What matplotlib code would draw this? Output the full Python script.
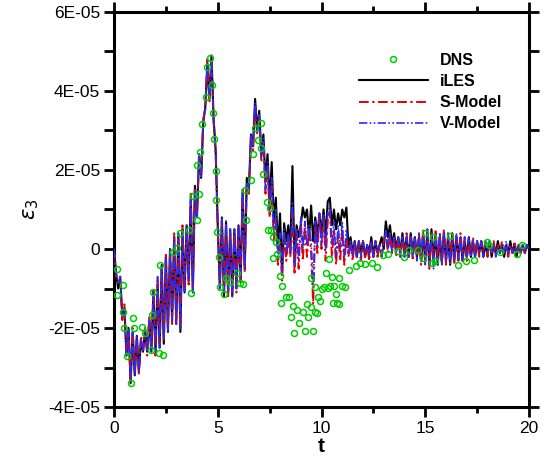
import numpy as np
import matplotlib
matplotlib.use("Agg")
import matplotlib.pyplot as plt
from matplotlib.ticker import MultipleLocator

plt.rcParams['font.family'] = ['Liberation Sans', 'DejaVu Sans']

# time grid of the LES series (step 0.1)
t_les = np.round(np.arange(0, 201) * 0.1, 2)

# values in units of 1E-05
iles = [
    0.0, -0.6, -1.0, -0.7, -1.7, -1.5, -2.7, -2.0, -3.4, -2.1,
    -3.2, -2.2, -3.1, -2.3, -2.6, -2.05, -2.6, -1.8, -2.6, -1.1,
    -2.6, -0.9, -2.5, -0.4, -2.4, -0.2, -2.1, 0.0, -1.8, 0.3,
    -1.9, 0.4, -2.1, 0.5, -1.1, 0.6, -0.8, 1.3, -1.1, 1.6,
    0.8, 2.4, 1.8, 3.2, 3.6, 4.7, 3.8, 4.9, 3.3, 2.5,
    0.6, -1.0, 0.8, -1.2, 0.7, -1.1, 0.5, -1.2, 0.5, -1.0,
    0.6, -0.8, 1.5, -0.5, 1.8, 1.5, 2.9, 2.6, 3.8, 3.0,
    3.5, 2.4, 2.9, 1.7, 2.4, 1.1, 2.2, 0.7, 1.3, 0.0,
    0.9, -0.6, 0.65, 0.2, 0.6, 0.0, 2.1, -0.4, 0.6, 0.3,
    0.6, 1.05, 0.8, 1.0, 0.3, 1.1, 0.2, 0.8, 0.3, 0.9,
    0.4, 1.0, 0.3, 1.2, 1.3, 0.6, 1.0, 0.5, 0.9, 0.6,
    1.0, 0.8, 1.05, 0.05, 0.3, -0.1, 0.2, -0.2, 0.2, -0.1,
    0.2, -0.2, 0.1, -0.1, 0.3, -0.2, 0.2, -0.1, 0.1, 0.3,
    0.0, 0.7, 0.3, 0.6, 0.1, 0.4, 0.0, 0.3, -0.1, 0.4,
    -0.1, 0.3, -0.2, 0.4, -0.1, 0.3, -0.2, 0.3, -0.3, 0.4,
    -0.3, 0.4, -0.4, 0.5, -0.3, 0.4, -0.4, 0.3, -0.3, 0.4,
    -0.3, 0.3, -0.4, 0.4, -0.3, 0.3, -0.2, 0.3, -0.3, 0.2,
    -0.2, 0.3, -0.2, 0.2, -0.2, 0.2, -0.1, 0.2, -0.2, 0.1,
    -0.1, 0.2, -0.2, 0.1, -0.1, 0.2, -0.1, 0.1, -0.2, 0.1,
    -0.1, 0.2, -0.1, 0.1, -0.2, 0.1, -0.1, 0.1, -0.1, 0.1,
    0.0,
]

s_model = [
    0.0, -0.7, -0.9, -0.8, -1.8, -1.4, -2.6, -2.1, -3.3, -2.0,
    -3.1, -2.3, -3.2, -2.2, -2.5, -2.0, -2.7, -1.7, -2.5, -1.0,
    -2.7, -0.8, -2.4, -0.5, -2.3, -0.1, -2.0, -0.1, -1.9, 0.4,
    -1.8, 0.3, -2.0, 0.6, -1.0, 0.5, -0.9, 1.4, -1.0, 1.5,
    0.9, 2.3, 1.9, 3.3, 3.5, 4.8, 3.7, 4.8, 3.2, 2.4,
    0.5, -0.9, 0.7, -1.1, 0.6, -1.2, 0.4, -1.1, 0.4, -1.1,
    0.5, -0.9, 1.4, -0.6, 1.7, 1.4, 2.8, 2.5, 3.6, 2.9,
    3.3, 2.2, 2.7, 1.4, 2.1, 0.8, 1.6, 0.2, 0.7, -0.4,
    0.2, -0.8, 0.4, -0.3, 0.3, -0.2, 0.9, -0.6, 0.4, -0.5,
    0.7, -0.3, 0.6, -0.2, 0.5, -0.1, -1.4, 0.6, -0.1, 0.9,
    0.0, 0.8, -0.3, 0.7, 1.0, -0.2, 0.5, -0.4, 0.4, -0.3,
    0.5, -0.4, 0.3, -0.2, 0.2, -0.3, 0.2, -0.2, 0.1, -0.3,
    0.2, -0.2, 0.1, -0.3, 0.2, -0.2, 0.2, -0.2, 0.1, -0.2,
    0.2, 0.4, -0.1, 0.4, -0.1, 0.3, -0.2, 0.3, -0.2, 0.3,
    -0.2, 0.4, -0.2, 0.3, -0.3, 0.3, -0.2, 0.4, -0.4, 0.5,
    -0.4, 0.5, -0.5, 0.4, -0.4, 0.5, -0.3, 0.4, -0.4, 0.5,
    -0.4, 0.4, -0.3, 0.4, -0.4, 0.3, -0.3, 0.4, -0.3, 0.3,
    -0.3, 0.2, -0.2, 0.3, -0.2, 0.2, -0.2, 0.2, -0.1, 0.2,
    -0.2, 0.1, -0.1, 0.2, -0.2, 0.1, -0.1, 0.2, -0.1, 0.1,
    -0.2, 0.1, -0.1, 0.2, -0.1, 0.1, -0.1, 0.1, -0.1, 0.1,
    0.0,
]

v_model = [
    0.0, -0.6, -0.9, -0.7, -1.7, -1.5, -2.7, -2.0, -3.3, -2.1,
    -3.2, -2.2, -3.1, -2.3, -2.6, -2.0, -2.6, -1.8, -2.6, -1.1,
    -2.6, -0.7, -2.5, -0.4, -2.3, -0.2, -2.1, 0.0, -1.8, 0.3,
    -1.9, 0.4, -2.0, 0.5, -1.1, 0.6, -0.8, 1.3, -1.1, 1.5,
    0.8, 2.4, 1.8, 3.2, 3.6, 4.7, 3.8, 4.8, 3.3, 2.5,
    0.6, -1.0, 0.8, -1.1, 0.7, -1.1, 0.5, -1.2, 0.5, -1.0,
    0.6, -0.8, 1.5, -0.5, 1.7, 1.5, 2.9, 2.6, 3.7, 3.0,
    3.4, 2.3, 2.8, 1.5, 2.2, 1.0, 1.8, 0.4, 1.0, -0.2,
    0.4, -0.6, 0.5, -0.1, 0.4, -0.1, 1.2, -0.4, 0.5, -0.3,
    0.8, 0.0, 0.7, 0.1, 0.6, 0.2, -0.9, 0.7, 0.1, 0.9,
    0.1, 0.9, 0.0, 0.9, 1.1, 0.1, 0.7, -0.2, 0.6, 0.0,
    0.7, -0.2, 0.5, -0.1, 0.2, -0.2, 0.2, -0.2, 0.2, -0.2,
    0.2, -0.1, 0.1, -0.2, 0.2, -0.2, 0.2, -0.1, 0.1, -0.2,
    0.1, 0.5, 0.0, 0.4, -0.1, 0.3, -0.1, 0.3, -0.2, 0.3,
    -0.2, 0.3, -0.2, 0.4, -0.2, 0.3, -0.3, 0.4, -0.3, 0.4,
    -0.4, 0.5, -0.4, 0.4, -0.5, 0.4, -0.3, 0.4, -0.4, 0.4,
    -0.3, 0.4, -0.4, 0.3, -0.3, 0.4, -0.3, 0.3, -0.3, 0.3,
    -0.2, 0.3, -0.2, 0.2, -0.2, 0.2, -0.1, 0.2, -0.2, 0.2,
    -0.1, 0.2, -0.1, 0.1, -0.2, 0.1, -0.1, 0.1, -0.1, 0.2,
    -0.1, 0.1, -0.1, 0.1, -0.1, 0.1, -0.1, 0.1, -0.1, 0.1,
    0.0,
]

dns_t = [0.14, 0.14, 0.43, 0.43, 0.48, 0.63, 0.82, 0.92, 0.96, 1.35,
         1.49, 1.78, 1.83, 1.88, 2.17, 2.22, 2.36, 2.84, 3.04, 3.18,
         3.61, 3.71, 3.81, 4.00, 4.00, 4.10, 4.14, 4.24, 4.43, 4.48,
         4.63, 4.72, 4.77, 4.82, 4.92, 4.92, 4.96, 5.06, 5.11, 5.30,
         5.40, 5.59, 5.93, 6.07, 6.22, 6.31, 6.36, 6.60, 6.70, 6.80,
         6.94, 7.08, 7.08, 7.18, 7.37, 7.52, 7.42, 7.57, 7.66, 7.81,
         7.66, 7.86, 8.00, 8.10, 8.05, 8.29, 8.43, 8.53, 8.63, 8.67,
         8.82, 8.92, 9.11, 9.20, 9.30, 9.35, 9.49, 9.49, 9.59, 9.69,
         9.69, 9.78, 9.83, 9.93, 10.02, 10.12, 10.22, 10.36, 10.31, 10.41,
         10.51, 10.55, 10.60, 10.70, 10.75, 10.84, 10.84, 10.99, 11.13, 11.33,
         11.66, 11.86, 12.10, 12.43, 12.67, 12.96, 13.20, 13.69, 13.98, 14.22,
         14.65, 14.89, 14.99, 15.33, 15.37, 15.47, 16.19, 16.58, 16.96, 17.35,
         17.98, 18.07, 18.60, 19.42, 19.66]
dns_v = [-0.51, -1.16, -0.91, -1.59, -2.00, -2.71, -3.39, -1.75, -2.00, -1.97,
         -2.13, -2.56, -1.67, -1.09, -2.63, -0.41, -2.68, -0.08, 0.03, 0.41,
         0.48, -1.11, 1.34, 0.73, 2.13, 1.39, 2.46, 3.16, 3.85, 4.61,
         4.84, 4.15, 3.44, 2.78, 1.97, 1.24, 0.43, -0.20, -0.96, -1.14,
         -0.73, -0.84, -0.61, -0.86, -0.89, 1.49, 0.73, 1.75, 2.41, 3.06,
         2.76, 3.19, 2.56, 1.90, 1.19, 1.04, 0.48, 0.48, 0.30, 0.18,
         -0.23, -0.13, -0.68, -0.94, -1.37, -1.22, -1.22, -1.72, -1.44, -2.13,
         -1.54, -1.87, -1.59, -2.08, -1.39, -1.72, -1.47, -0.73, -2.08, -1.59,
         -0.96, -1.62, -1.22, -1.32, -1.01, -0.96, -0.61, -0.25, -0.99, -0.94,
         -0.71, -1.37, -0.94, -1.14, -1.37, -1.39, -0.73, -0.94, -0.96, -0.53,
         -0.43, -0.35, -0.38, -0.35, -0.46, -0.15, -0.13, -0.05, -0.20, -0.03,
         -0.03, -0.23, 0.41, -0.35, 0.30, -0.30, 0.33, -0.41, -0.30, -0.28,
         0.18, 0.10, -0.08, -0.13, 0.10]

scale = 1e-5
yticks = [-4e-5, -3e-5, -2e-5, -1e-5, 0, 1e-5, 2e-5, 3e-5, 4e-5, 5e-5, 6e-5]
ytick_labels = ['-4E-05', '', '-2E-05', '', '0', '', '2E-05', '', '4E-05', '', '6E-05']
xticks = [0, 5, 10, 15, 20]

fig = plt.figure(figsize=(5.54, 4.57), dpi=100)
ax = fig.add_axes([114/554, 50/457, 415/554, 395/457])

l_iles, = ax.plot(t_les, np.array(iles) * scale, color='black', lw=1.5,
                  label='iLES', zorder=2)
l_s, = ax.plot(t_les, np.array(s_model) * scale, color='#e00000', lw=1.4,
               linestyle=(0, (5, 1.8, 1.2, 1.8)), label='S-Model', zorder=3)
l_v, = ax.plot(t_les, np.array(v_model) * scale, color='#2a2aff', lw=1.2,
               linestyle=(0, (5, 1.4, 1, 1.4, 1, 1.4)), label='V-Model', zorder=4)
l_d, = ax.plot(dns_t, np.array(dns_v) * scale, linestyle='none', marker='o',
               markersize=4.3, markerfacecolor='none', markeredgecolor='#00cc00',
               markeredgewidth=1.1, label='DNS', zorder=5)

ax.set_xlim(0, 20)
ax.set_ylim(-4e-5, 6e-5)
ax.set_xticks(xticks)
ax.set_xticklabels([str(x) for x in xticks])
ax.xaxis.set_minor_locator(MultipleLocator(2.5))
ax.set_yticks(yticks)
ax.set_yticklabels(ytick_labels)

for s in ax.spines.values():
    s.set_linewidth(2.2)

ax.tick_params(axis='both', which='major', direction='out', width=2.0,
               labelsize=12.5, top=True, right=True, pad=3)
ax.tick_params(axis='y', which='major', length=7)
ax.tick_params(axis='x', which='major', length=7)
ax.tick_params(axis='x', which='minor', direction='out', width=2.0,
               length=4.5, top=True)

ax.set_xlabel('t', fontsize=15, fontweight='bold', labelpad=1)
ax.set_ylabel(r'$\varepsilon_3$', fontsize=15, labelpad=5)

leg = ax.legend(handles=[l_d, l_iles, l_s, l_v], loc='upper left',
                bbox_to_anchor=(359/554, (457-53)/457),
                bbox_transform=fig.transFigure, frameon=False,
                prop={'weight': 'bold', 'size': 11.5}, handlelength=4.3,
                handletextpad=0.75, labelspacing=0.38, borderpad=0,
                borderaxespad=0)

fig.savefig('out.png', dpi=100)
